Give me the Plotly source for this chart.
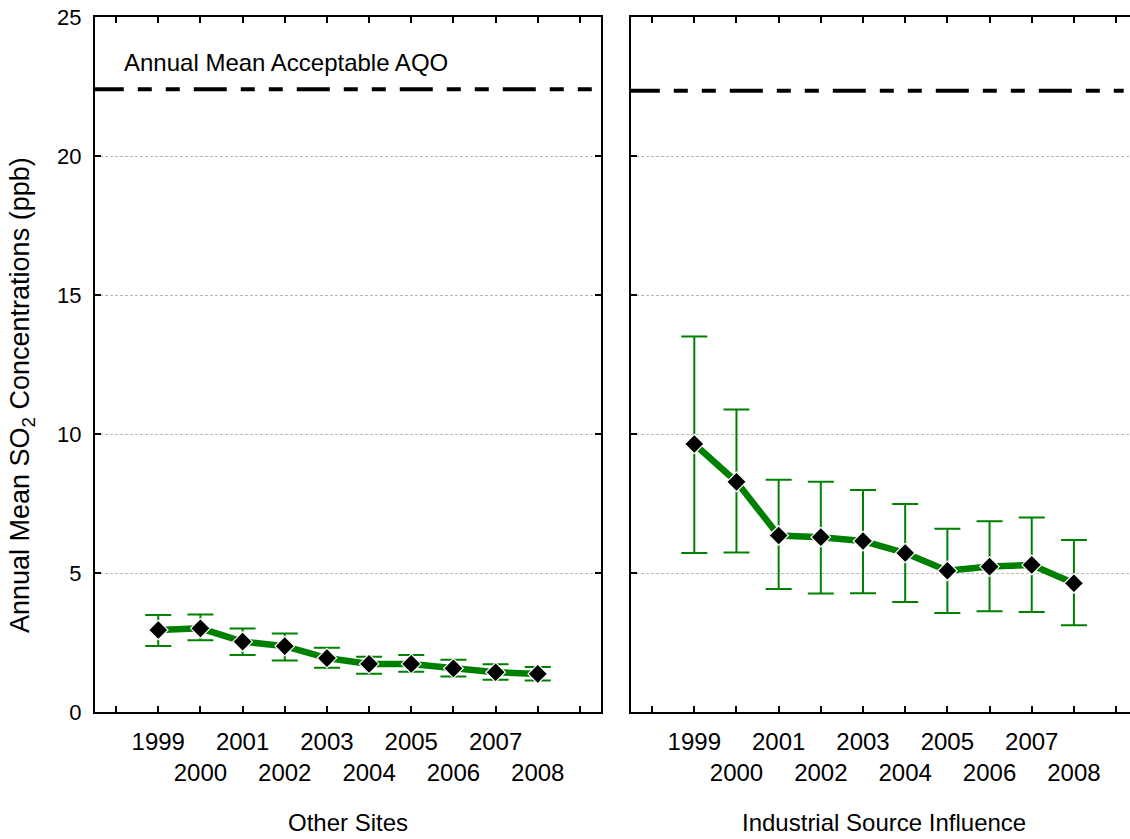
import numpy as np
import plotly.graph_objects as go

# Annual mean SO2 (ppb) with upper / lower error limits
years = [1999, 2000, 2001, 2002, 2003, 2004, 2005, 2006, 2007, 2008]

other_mean = [2.95, 3.01, 2.53, 2.37, 1.94, 1.73, 1.73, 1.57, 1.43, 1.37]
other_upper = [3.49, 3.51, 3.00, 2.82, 2.31, 1.99, 2.05, 1.88, 1.72, 1.62]
other_lower = [2.37, 2.58, 2.05, 1.85, 1.59, 1.38, 1.45, 1.28, 1.16, 1.13]

ind_mean = [9.64, 8.28, 6.35, 6.29, 6.15, 5.72, 5.08, 5.23, 5.29, 4.63]
ind_upper = [13.51, 10.88, 8.35, 8.28, 7.99, 7.48, 6.59, 6.86, 7.00, 6.19]
ind_lower = [5.72, 5.74, 4.42, 4.26, 4.27, 3.96, 3.56, 3.62, 3.60, 3.12]

aqo_level = [22.4, 22.35]
aqo_label = "Annual Mean Acceptable AQO"
panel_titles = ["Other Sites", "Industrial Source Influence"]
y_title = "Annual Mean SO<sub>2</sub> Concentrations (ppb)"
y_ticks = [0, 5, 10, 15, 20, 25]

# odd years on the first row, even years dropped to a second row
tick_text = [str(y) if (y % 2 == 1) else "<br>" + str(y) for y in years]
tick_marks = [1998] + years + [2009]

FONT = "Liberation Sans, Arial, sans-serif"
GREEN = "#008000"

fig = go.Figure()

series = [(other_mean, other_upper, other_lower), (ind_mean, ind_upper, ind_lower)]
for i, (m, up, lo) in enumerate(series):
    xa = "x" if i == 0 else "x2"
    ya = "y" if i == 0 else "y2"
    m_arr = np.array(m)
    fig.add_trace(go.Scatter(
        x=years, y=m, xaxis=xa, yaxis=ya, mode="lines+markers",
        line=dict(color=GREEN, width=6.5),
        marker=dict(symbol="diamond", size=15, color="black",
                    line=dict(color="white", width=1.2)),
        error_y=dict(type="data", symmetric=False,
                     array=(np.array(up) - m_arr).tolist(),
                     arrayminus=(m_arr - np.array(lo)).tolist(),
                     color=GREEN, thickness=2, width=13),
        showlegend=False, cliponaxis=False,
    ))
    # AQO reference line
    x_end = 2009.5 if i == 0 else 2009.33
    fig.add_trace(go.Scatter(
        x=[1997.4, x_end - 0.15], y=[aqo_level[i]] * 2, xaxis=xa, yaxis=ya,
        mode="lines", line=dict(color="black", width=4,
                                dash="33px,14px,14px,14px,14px,14px"),
        showlegend=False, cliponaxis=False, hoverinfo="skip",
    ))

common_x = dict(
    tickmode="array", tickvals=years, ticktext=tick_text, tickangle=0,
    ticks="inside", ticklen=6, tickwidth=2, tickcolor="black",
    minor=dict(tickmode="array", tickvals=tick_marks, ticks="inside",
               ticklen=6, tickwidth=2, tickcolor="black", showgrid=False),
    showline=True, linecolor="black", linewidth=2, mirror="ticks",
    showgrid=False, zeroline=False,
    tickfont=dict(family=FONT, size=24, color="black"),
    ticklabelstandoff=7,
)
common_y = dict(
    range=[0, 25], tickmode="array", tickvals=y_ticks,
    ticks="inside", ticklen=6, tickwidth=2, tickcolor="black",
    showline=True, linecolor="black", linewidth=2,
    showgrid=True, gridcolor="#b8b8b8", gridwidth=1, griddash="3px,2px",
    zeroline=False,
    tickfont=dict(family=FONT, size=22, color="black"),
)

fig.update_layout(
    width=1130, height=839,
    margin=dict(l=95, r=0, t=17, b=127),
    paper_bgcolor="white", plot_bgcolor="white",
    font=dict(family=FONT, color="black"),
    xaxis=dict(domain=[0, 0.4889], range=[1997.5, 2009.5], anchor="y", **common_x),
    xaxis2=dict(domain=[0.5179, 1.0], range=[1997.5, 2009.33], anchor="y2", **common_x),
    yaxis=dict(domain=[0, 1], anchor="x", mirror="ticks", ticklabelstandoff=7, **common_y),
    yaxis2=dict(domain=[0, 1], anchor="x2", mirror=False, showticklabels=False, **common_y),
)

annotations = [
    dict(text=aqo_label, xref="x domain", yref="y", x=0.053, y=23.35,
         xanchor="left", yanchor="middle", showarrow=False,
         font=dict(family=FONT, size=24, color="black")),
    dict(text=y_title, xref="paper", yref="paper", x=-0.0705, y=0.456,
         xanchor="center", yanchor="middle", textangle=-90, showarrow=False,
         font=dict(family=FONT, size=27, color="black")),
    dict(text=panel_titles[0], xref="x domain", yref="paper", x=0.5, y=-0.1597,
         xanchor="center", yanchor="middle", showarrow=False,
         font=dict(family=FONT, size=24, color="black")),
    dict(text=panel_titles[1], xref="paper", yref="paper", x=0.7624, y=-0.1597,
         xanchor="center", yanchor="middle", showarrow=False,
         font=dict(family=FONT, size=24, color="black")),
]
fig.update_layout(annotations=annotations)

fig.write_html("out.html")
